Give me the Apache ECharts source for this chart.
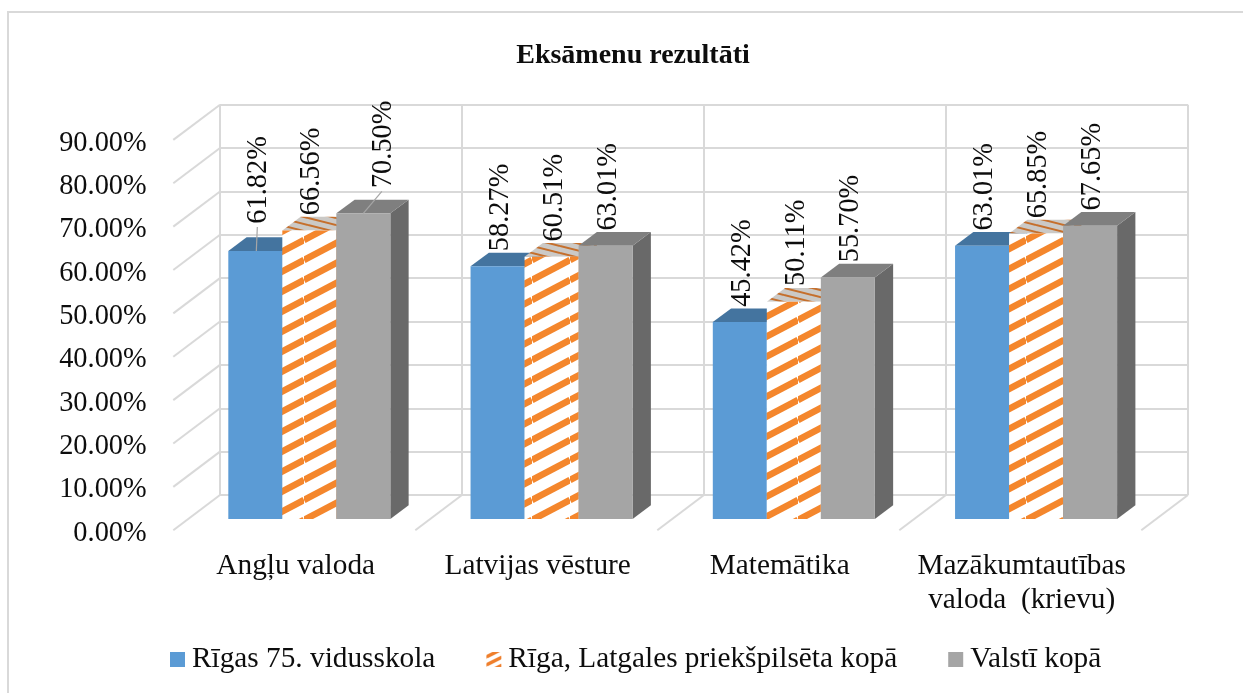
<!DOCTYPE html>
<html><head><meta charset="utf-8">
<style>html,body{margin:0;padding:0;background:#fff}#c{width:1243px;height:693px}</style>
<script src="https://cdn.jsdelivr.net/npm/echarts@6/dist/echarts.min.js"></script>
</head><body><div id="c"></div>
<script>
const categories = ['Angļu valoda', 'Latvijas vēsture', 'Matemātika', 'Mazākumtautības\nvaloda  (krievu)'];
const seriesNames = ['Rīgas 75. vidusskola', 'Rīga, Latgales priekšpilsēta kopā', 'Valstī kopā'];
const school = [61.82, 58.27, 45.42, 63.01];
const district = [66.56, 60.51, 50.11, 65.85];
const country = [70.50, 63.01, 55.70, 67.65];
const ticks = [0, 10, 20, 30, 40, 50, 60, 70, 80, 90];

const FONT = '"Liberation Serif","Times New Roman",serif';
const INK = '#0d0d0d', GRID = '#d9d9d9';
const DEPTH = {x: 18.3, y: 13.7};      // bar depth
const WALL = {x: 46.7, y: 35.2};       // side wall depth
const BAR_RATIO = 54 / 242.2;

function stripes(w, h, bg, fg, lw, y0, y1) {
  const c = document.createElement('canvas'); c.width = w; c.height = h;
  const g = c.getContext('2d');
  g.fillStyle = bg; g.fillRect(0, 0, w, h);
  g.strokeStyle = fg; g.lineWidth = lw;
  for (let k = -3; k <= 5; k++) {
    g.beginPath(); g.moveTo(0, y0 + k * h); g.lineTo(w, y1 + k * h); g.stroke();
  }
  return {image: c, repeat: 'repeat'};
}
const frontFill = ['#5b9bd5', stripes(38, 20, '#ffffff', '#f4862c', 6.6, 0, -20), '#a5a5a5'];
const topFill = ['#44749f', stripes(28, 7, '#cbc9c6', '#c56f2c', 1.9, 1, 8), '#7f7f7f'];
const sideFill = ['#3f6f9c', '#c56f2c', '#696969'];
const legendFill = ['#5b9bd5', stripes(16, 8, '#ffffff', '#ef7f2c', 3.4, 4.9, -3.1), '#a5a5a5'];

// Hand-moved data labels with their leader lines: [series, category, dx, dy]
const movedLabels = [[0, 0, 1, -12], [2, 0, 17.5, -10]];

function barRender(s) {
  return function (params, api) {
    const cat = api.value(0), val = api.value(1);
    const top = api.coord([cat, val]), base = api.coord([cat, 0]);
    const w = api.size([1, 0])[0] * BAR_RATIO;
    const x = top[0] + (s - 1.5) * w, y = top[1], y0 = base[1];
    const children = [
      {type: 'polygon', shape: {points: [[x + w, y], [x + w + DEPTH.x, y - DEPTH.y], [x + w + DEPTH.x, y0 - DEPTH.y], [x + w, y0]]}, style: {fill: sideFill[s]}},
      {type: 'polygon', shape: {points: [[x, y], [x + DEPTH.x, y - DEPTH.y], [x + w + DEPTH.x, y - DEPTH.y], [x + w, y]]}, style: {fill: topFill[s]}},
      {type: 'rect', shape: {x: x, y: y, width: w, height: y0 - y}, style: {fill: frontFill[s]}}
    ];
    return {type: 'group', children: children};
  };
}
function labelRender(s) {
  return function (params, api) {
    const cat = api.value(0), val = api.value(1);
    const top = api.coord([cat, val]);
    const w = api.size([1, 0])[0] * BAR_RATIO;
    const cx = top[0] + (s - 1) * w, y = top[1];
    const moved = movedLabels.find(m => m[0] === s && m[1] === cat);
    const lx = cx + 2.5 + (moved ? moved[2] : 0), ly = y - 59 + (moved ? moved[3] : 0);
    const children = [];
    if (moved) {
      children.push({type: 'line', shape: {x1: cx + (s === 0 ? 1 : 0), y1: y, x2: lx - 1.5, y2: ly + 47}, style: {stroke: '#a6a6a6', lineWidth: 1.2}});
    }
    children.push({type: 'text', x: lx, y: ly, rotation: Math.PI / 2,
      style: {text: val.toFixed(2) + '%', font: '28.4px ' + FONT, fill: INK, align: 'center', verticalAlign: 'middle'}});
    return {type: 'group', children: children};
  };
}
function wallRender(params, api) {
  const cs = params.coordSys;
  const kind = api.value(0), v = api.value(1);
  let x, y;
  if (kind === 0) { x = cs.x; y = api.coord([0, v])[1]; }
  else { x = cs.x + v * cs.width / categories.length; y = api.coord([0, 0])[1]; }
  return {type: 'line', shape: {x1: x, y1: y, x2: x - WALL.x, y2: y + WALL.y}, style: {stroke: GRID, lineWidth: 2}};
}
const wallData = ticks.map(t => [0, t]).concat(categories.map((c, i) => [1, i + 1]));

const hiddenValue = {type: 'value', min: 0, max: 90, interval: 10, axisLine: {show: false}, axisTick: {show: false}, axisLabel: {show: false}, splitLine: {show: false}};
const hiddenCat = {type: 'category', data: categories, axisLine: {show: false}, axisTick: {show: false}, axisLabel: {show: false}, splitLine: {show: false}};

const valueSets = [school, district, country];
const barSeries = valueSets.map((vals, s) => ({
  type: 'custom', name: seriesNames[s], xAxisIndex: 0, yAxisIndex: 0, z: 3 + s, clip: false,
  itemStyle: {color: frontFill[s]},
  renderItem: barRender(s), data: vals.map((v, i) => [i, v]), encode: {x: 0, y: 1}
}));
const labelSeries = valueSets.map((vals, s) => ({
  type: 'custom', xAxisIndex: 0, yAxisIndex: 0, z: 10, clip: false, silent: true,
  renderItem: labelRender(s), data: vals.map((v, i) => [i, v]), encode: {x: 0, y: 1}
}));

const option = {
  animation: false,
  backgroundColor: '#fff',
  textStyle: {fontFamily: FONT},
  title: {text: 'Eksāmenu rezultāti', left: 628, top: 37, textAlign: 'center',
    textStyle: {fontFamily: FONT, fontSize: 28, fontWeight: 'bold', color: INK}},
  legend: {
    left: 170, top: 645, padding: 0, itemWidth: 15, itemHeight: 15, itemGap: 51, icon: 'rect',
    data: seriesNames.map((n, s) => ({name: n, icon: 'rect', itemStyle: {color: legendFill[s]}})),
    textStyle: {fontFamily: FONT, fontSize: 29.3, color: INK, padding: [8, 0, 0, 2]}
  },
  graphic: [
    {type: 'polyline', shape: {points: [[8, 693], [8, 12], [1243, 12]]}, style: {fill: 'none', stroke: GRID, lineWidth: 2}, silent: true, z: -1}
  ],
  grid: [
    {left: 188.2, width: 969, top: 128.8, height: 390.2},
    {left: 220, width: 968, top: 104.7, height: 390.3},
    {left: 174.7, width: 968, top: 143.1, height: 390.3}
  ],
  xAxis: [
    Object.assign({}, hiddenCat, {gridIndex: 0}),
    Object.assign({}, hiddenCat, {gridIndex: 1, splitLine: {show: true, lineStyle: {color: GRID, width: 2}}}),
    Object.assign({}, hiddenCat, {gridIndex: 2, axisLabel: {show: true, interval: 0, margin: 16.4, fontFamily: FONT, fontSize: 29.3, color: INK, lineHeight: 34, align: 'center'}})
  ],
  yAxis: [
    Object.assign({}, hiddenValue, {gridIndex: 0}),
    Object.assign({}, hiddenValue, {gridIndex: 1, splitLine: {show: true, lineStyle: {color: GRID, width: 2}}}),
    Object.assign({}, hiddenValue, {gridIndex: 2, axisLabel: {show: true, margin: 28, fontFamily: FONT, fontSize: 28.4, color: INK, formatter: v => v.toFixed(2) + '%'}})
  ],
  series: [
    {type: 'custom', xAxisIndex: 1, yAxisIndex: 1, z: 1, clip: false, silent: true, renderItem: wallRender, data: wallData, encode: {y: 1}}
  ].concat(barSeries, labelSeries)
};
const chart = echarts.init(document.getElementById('c'), null, {renderer: 'canvas'});
chart.setOption(option);
</script></body></html>
